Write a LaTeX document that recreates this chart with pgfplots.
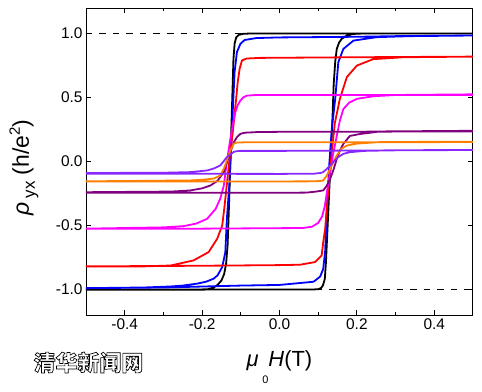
\documentclass[border=0pt]{standalone}
\usepackage{fontspec}
\setmainfont{Liberation Sans}
\newfontfamily\cjk{Noto Sans CJK SC}[FakeBold=3]
\usepackage{pgfplots}
\pgfplotsset{compat=1.18}
\definecolor{cblue}{RGB}{0,0,255}
\definecolor{cred}{RGB}{255,0,0}
\definecolor{cmag}{RGB}{255,0,255}
\definecolor{cpur}{RGB}{128,0,128}
\definecolor{cora}{RGB}{255,128,0}
\definecolor{cvio}{RGB}{136,40,255}
\begin{document}
\begin{tikzpicture}
\begin{axis}[
  scale only axis, width=387bp, height=307bp,
  xmin=-0.5, xmax=0.5, ymin=-1.2, ymax=1.2,
  xtick={-0.4,-0.2,0,0.2,0.4},
  minor xtick={-0.3,-0.1,0.1,0.3},
  ytick={-1,-0.5,0,0.5,1},
  tick align=inside,
  major tick length=5bp, minor tick length=3bp,
  every tick/.style={black, line width=0.8pt},
  axis line style={line width=1pt},
  tick label style={font=\fontsize{15.5}{18}\selectfont},
  /pgf/number format/assume math mode=true,
  xticklabel style={/pgf/number format/fixed, /pgf/number format/fixed zerofill, /pgf/number format/precision=1},
  yticklabel style={/pgf/number format/fixed, /pgf/number format/fixed zerofill, /pgf/number format/precision=1},
  scaled ticks=false,
  every axis x label/.style={at={(rel axis cs:0.5,0)}, anchor=base, yshift=-51.7bp, font=\fontsize{22}{24}\selectfont},
  every axis y label/.style={at={(rel axis cs:0,0.5)}, anchor=center, rotate=90, yshift=62bp, xshift=-6bp, font=\fontsize{23}{26}\selectfont},
  xlabel={\textit{μ}\,\raisebox{-17bp}{\fontsize{11}{11}\selectfont 0}\textit{H}(T)},
  ylabel={\textit{ρ}\,{\fontsize{17}{17}\selectfont\raisebox{-6bp}{yx}} (h/e\raisebox{9bp}{\fontsize{15}{15}\selectfont 2})},
  line join=round,
]
\addplot[black, line width=0.8pt, dash pattern=on 6.5bp off 7bp, forget plot] coordinates {(-0.5,1) (0.5,1)};
\addplot[black, line width=0.8pt, dash pattern=on 6.5bp off 7bp, forget plot] coordinates {(-0.5,-1) (0.5,-1)};
% black
\addplot[black, line width=1.8bp] coordinates {
(0.5,1.0) (-0.08,1.0) (-0.094,0.998) (-0.105,0.99) (-0.112,0.97) (-0.116,0.92) (-0.119,0.8) (-0.122,0.5) (-0.126,0.1) (-0.13,-0.3) (-0.134,-0.65) (-0.138,-0.8) (-0.143,-0.88) (-0.15,-0.93) (-0.16,-0.965) (-0.17,-0.985) (-0.185,-0.998) (-0.2,-1.0) (-0.5,-1.0)
(-0.5,-1.003) (0.09,-1.0) (0.1,-0.998) (0.107,-0.99) (0.112,-0.97) (0.117,-0.92) (0.12,-0.79) (0.126,-0.4) (0.132,0.0) (0.137,0.35) (0.14,0.6) (0.144,0.78) (0.148,0.88) (0.154,0.93) (0.161,0.96) (0.174,0.984) (0.19,0.997) (0.21,1.0) (0.5,1.0)
};
% blue
\addplot[cblue, line width=1.8bp] coordinates {
(0.5,0.985) (0.3,0.98) (0.2,0.975) (0.0,0.97) (-0.06,0.965) (-0.09,0.95) (-0.101,0.92) (-0.11,0.855) (-0.116,0.7) (-0.12,0.45) (-0.125,0.1) (-0.13,-0.2) (-0.136,-0.45) (-0.14,-0.71) (-0.148,-0.825) (-0.16,-0.89) (-0.17,-0.916) (-0.19,-0.94) (-0.213,-0.955) (-0.25,-0.97) (-0.281,-0.977) (-0.35,-0.985) (-0.5,-0.99)
(-0.5,-0.99) (-0.3,-0.985) (-0.1,-0.97) (0.0,-0.965) (0.053,-0.95) (0.088,-0.94) (0.105,-0.90) (0.113,-0.84) (0.118,-0.7) (0.122,-0.4) (0.128,-0.05) (0.135,0.25) (0.144,0.49) (0.152,0.776) (0.165,0.88) (0.191,0.945) (0.251,0.972) (0.337,0.98) (0.5,0.985)
};
% red
\addplot[cred, line width=1.8bp] coordinates {
(0.5,0.82) (0.2,0.815) (-0.05,0.81) (-0.085,0.805) (-0.097,0.79) (-0.103,0.724) (-0.108,0.62) (-0.112,0.49) (-0.12,0.25) (-0.128,0.05) (-0.135,-0.15) (-0.142,-0.35) (-0.148,-0.5) (-0.161,-0.604) (-0.183,-0.708) (-0.222,-0.773) (-0.281,-0.813) (-0.35,-0.82) (-0.5,-0.82)
(-0.5,-0.82) (-0.2,-0.815) (0.0,-0.81) (0.053,-0.807) (0.092,-0.786) (0.109,-0.734) (0.113,-0.63) (0.118,-0.526) (0.124,-0.3) (0.13,-0.1) (0.136,0.1) (0.143,0.3) (0.156,0.49) (0.174,0.66) (0.2,0.75) (0.242,0.80) (0.32,0.815) (0.5,0.82)
};
% magenta
\addplot[cmag, line width=1.8bp] coordinates {
(0.5,0.52) (0.2,0.52) (-0.06,0.52) (-0.084,0.515) (-0.094,0.5) (-0.101,0.477) (-0.108,0.44) (-0.114,0.386) (-0.12,0.3) (-0.127,0.177) (-0.136,0.0) (-0.144,-0.19) (-0.153,-0.29) (-0.165,-0.37) (-0.187,-0.448) (-0.215,-0.485) (-0.247,-0.505) (-0.3,-0.515) (-0.5,-0.525)
(-0.5,-0.525) (-0.2,-0.525) (0.06,-0.52) (0.084,-0.51) (0.1,-0.48) (0.11,-0.43) (0.117,-0.35) (0.122,-0.25) (0.13,-0.1) (0.138,0.05) (0.148,0.2) (0.156,0.32) (0.165,0.41) (0.18,0.46) (0.2,0.49) (0.242,0.51) (0.3,0.52) (0.5,0.525)
};
% dark purple
\addplot[cpur, line width=1.8bp] coordinates {
(0.5,0.235) (0.0,0.232) (-0.058,0.23) (-0.09,0.225) (-0.101,0.216) (-0.11,0.19) (-0.118,0.15) (-0.127,0.073) (-0.135,0.0) (-0.144,-0.083) (-0.16,-0.15) (-0.178,-0.187) (-0.2,-0.21) (-0.23,-0.226) (-0.28,-0.235) (-0.5,-0.24)
(-0.5,-0.245) (0.0,-0.245) (0.07,-0.243) (0.095,-0.235) (0.113,-0.226) (0.122,-0.19) (0.131,-0.135) (0.14,-0.06) (0.148,0.02) (0.156,0.085) (0.165,0.138) (0.182,0.2) (0.208,0.215) (0.26,0.235) (0.5,0.24)
};
% orange
\addplot[cora, line width=1.8bp] coordinates {
(0.5,0.152) (0.0,0.15) (-0.09,0.15) (-0.11,0.148) (-0.118,0.14) (-0.125,0.1) (-0.13,0.06) (-0.136,0.008) (-0.143,-0.05) (-0.153,-0.11) (-0.17,-0.133) (-0.2,-0.143) (-0.23,-0.148) (-0.5,-0.155)
(-0.5,-0.157) (0.0,-0.156) (0.09,-0.155) (0.105,-0.152) (0.113,-0.148) (0.122,-0.11) (0.131,-0.057) (0.14,0.0) (0.148,0.047) (0.16,0.1) (0.174,0.125) (0.2,0.14) (0.26,0.152) (0.5,0.155)
};
% violet
\addplot[cvio, line width=1.8bp] coordinates {
(0.5,0.09) (0.0,0.083) (-0.1,0.083) (-0.112,0.08) (-0.118,0.075) (-0.127,0.055) (-0.136,0.034) (-0.153,-0.031) (-0.17,-0.055) (-0.187,-0.07) (-0.23,-0.083) (-0.3,-0.088) (-0.5,-0.09)
(-0.5,-0.095) (0.0,-0.097) (0.09,-0.095) (0.105,-0.09) (0.113,-0.083) (0.125,-0.05) (0.139,-0.005) (0.152,0.035) (0.165,0.06) (0.182,0.073) (0.22,0.083) (0.3,0.088) (0.5,0.09)
};
\end{axis}
\node[inner sep=0pt, text=white, font=\cjk\bfseries\fontsize{22}{22}\selectfont] at ([shift={(2.5bp,-47.5bp)}]current axis.south west) {\special{pdf:literal direct 0 0 0 RG}清华新闻网};
\path ([shift={(-86bp,-77bp)}]current axis.south west) rectangle ++(482bp,392bp);
\end{tikzpicture}
\end{document}
